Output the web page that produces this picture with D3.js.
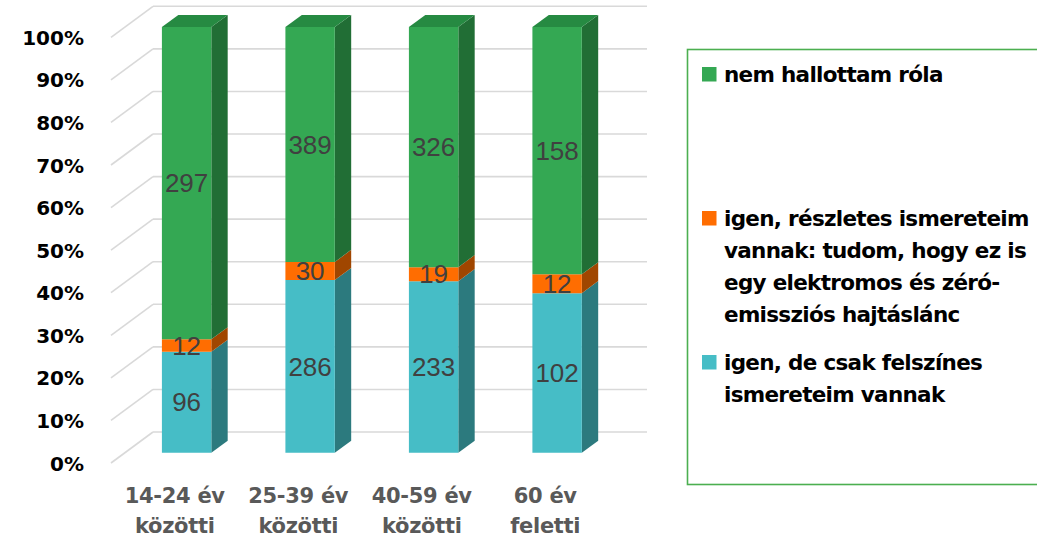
<!DOCTYPE html>
<html>
<head>
<meta charset="utf-8">
<script src="https://cdn.jsdelivr.net/npm/d3@7"></script>
<style>
  html, body { margin: 0; padding: 0; background: #ffffff; }
  svg { display: block; }
</style>
</head>
<body>
<svg id="chart" width="1037" height="538"></svg>
<script>
// Age groups (two-line labels)
const categories = [
  ["14-24 év", "közötti"],
  ["25-39 év", "közötti"],
  ["40-59 év", "közötti"],
  ["60 év", "feletti"]
];

// Series, stacked bottom to top
const seriesNames = [
  "igen, de csak felszínes ismereteim vannak",
  "igen, részletes ismereteim vannak: tudom, hogy ez is egy elektromos és zéró-emissziós hajtáslánc",
  "nem hallottam róla"
];
const felszines = [96, 286, 233, 102];
const reszletes = [12, 30, 19, 12];
const nemHallott = [297, 389, 326, 158];

const yTicks = [0, 0.1, 0.2, 0.3, 0.4, 0.5, 0.6, 0.7, 0.8, 0.9, 1.0];

// Legend entries, top to bottom, with wrapped lines
const legendItems = [
  { series: 2, lines: ["nem hallottam róla"] },
  { series: 1, lines: ["igen, részletes ismereteim", "vannak: tudom, hogy ez is", "egy elektromos és zéró-", "emissziós hajtáslánc"] },
  { series: 0, lines: ["igen, de csak felszínes", "ismereteim vannak"] }
];

const faceColors = ["#46BDC6", "#FF6D01", "#34A853"];
const sideColors = ["#2C7A7E", "#A04600", "#216E35"];
const topColors  = ["#37979E", "#C25400", "#268A42"];

const svg = d3.select("#chart");

// Front plane of the 3D box
const x0 = 111, x1 = 605;
const depthDx = 42, depthDy = -31;
const y = d3.scaleLinear().domain([0, 1]).range([463, 37.3]);
const x = d3.scaleBand().domain(d3.range(categories.length)).range([x0, x1])
  .paddingInner(0.6).paddingOuter(0.3);

// Project a point at front-plane x, value v and depth d (0 = front, 1 = back)
const P = (px, v, d) => [px + d * depthDx, y(v) + d * depthDy];

// Build stacked shares
const raw = [felszines, reszletes, nemHallott];
const table = categories.map((_, i) => ({ i, s0: raw[0][i], s1: raw[1][i], s2: raw[2][i] }));
const stacked = d3.stack().keys(["s0", "s1", "s2"]).offset(d3.stackOffsetExpand)(table);

// Back wall gridlines and left wall diagonals
const grid = svg.append("g");
yTicks.forEach(t => {
  const a = P(x0, t, 1), b = P(x1, t, 1), c = P(x0, t, 0);
  grid.append("line").attr("x1", a[0]).attr("y1", a[1]).attr("x2", b[0]).attr("y2", b[1])
    .attr("stroke", "#d9d9d9").attr("stroke-width", 1.6);
  grid.append("line").attr("x1", c[0]).attr("y1", c[1]).attr("x2", a[0]).attr("y2", a[1])
    .attr("stroke", "#d9d9d9").attr("stroke-width", 1.6);
});

// Y-axis labels
const yAxis = d3.axisLeft(y).tickValues(yTicks).tickFormat(d3.format(".0%")).tickSize(0).tickPadding(0);
const yg = svg.append("g").attr("transform", "translate(84,0)").call(yAxis);
yg.select(".domain").remove();
yg.selectAll("text")
  .attr("font-family", "DejaVu Sans").attr("font-weight", "bold")
  .attr("font-size", 20).attr("fill", "#000").attr("dy", "0.35em");

// Bars
const dFront = 0.33, dBack = 0.72;
const poly = pts => pts.map(p => p.join(",")).join(" ");
const bars = svg.append("g");
categories.forEach((_, i) => {
  const xl = x(i), xr = x(i) + x.bandwidth();
  stacked.forEach((layer, k) => {
    const v0 = layer[i][0], v1 = layer[i][1];
    // side face
    bars.append("polygon")
      .attr("points", poly([P(xr, v0, dFront), P(xr, v0, dBack), P(xr, v1, dBack), P(xr, v1, dFront)]))
      .attr("fill", sideColors[k]);
    // front face
    bars.append("polygon")
      .attr("points", poly([P(xl, v0, dFront), P(xr, v0, dFront), P(xr, v1, dFront), P(xl, v1, dFront)]))
      .attr("fill", faceColors[k]);
    // top face on the highest segment
    if (k === stacked.length - 1) {
      bars.append("polygon")
        .attr("points", poly([P(xl, v1, dFront), P(xr, v1, dFront), P(xr, v1, dBack), P(xl, v1, dBack)]))
        .attr("fill", topColors[k]);
    }
  });
});

// Data labels
const labels = svg.append("g");
categories.forEach((_, i) => {
  const cx = x(i) + x.bandwidth() / 2;
  stacked.forEach((layer, k) => {
    const v0 = layer[i][0], v1 = layer[i][1];
    const p = P(cx, (v0 + v1) / 2, dFront);
    labels.append("text")
      .attr("x", p[0]).attr("y", p[1]).attr("dy", "0.35em")
      .attr("text-anchor", "middle")
      .attr("font-family", "Liberation Sans, Arial, sans-serif")
      .attr("font-size", 26).attr("fill", "#404040")
      .text(raw[k][i]);
  });
});

// X-axis category labels
const xl = svg.append("g");
categories.forEach((lines, i) => {
  const cx = x(i) + x.bandwidth() / 2 + 2;
  lines.forEach((ln, j) => {
    xl.append("text")
      .attr("x", cx).attr("y", 496 + j * 29.5).attr("dy", "0.35em")
      .attr("text-anchor", "middle")
      .attr("font-family", "DejaVu Sans").attr("font-weight", "bold")
      .attr("font-size", 21).attr("letter-spacing", -0.3).attr("fill", "#595959")
      .text(ln);
  });
});

// Legend
const lg = svg.append("g");
lg.append("rect").attr("x", 687.5).attr("y", 49.5).attr("width", 360).attr("height", 435)
  .attr("fill", "none").attr("stroke", "#4CAF50").attr("stroke-width", 1.6);
const legendTop = [74, 218, 362];
legendItems.forEach((item, n) => {
  const ty = legendTop[n];
  lg.append("rect").attr("x", 702).attr("y", ty - 7).attr("width", 14.5).attr("height", 14.5)
    .attr("fill", faceColors[item.series]);
  item.lines.forEach((ln, j) => {
    lg.append("text")
      .attr("x", 724).attr("y", ty + j * 32.3).attr("dy", "0.35em")
      .attr("font-family", "DejaVu Sans").attr("font-weight", "bold")
      .attr("font-size", 21.5).attr("letter-spacing", -0.7).attr("fill", "#000")
      .text(ln);
  });
});
</script>
</body>
</html>
